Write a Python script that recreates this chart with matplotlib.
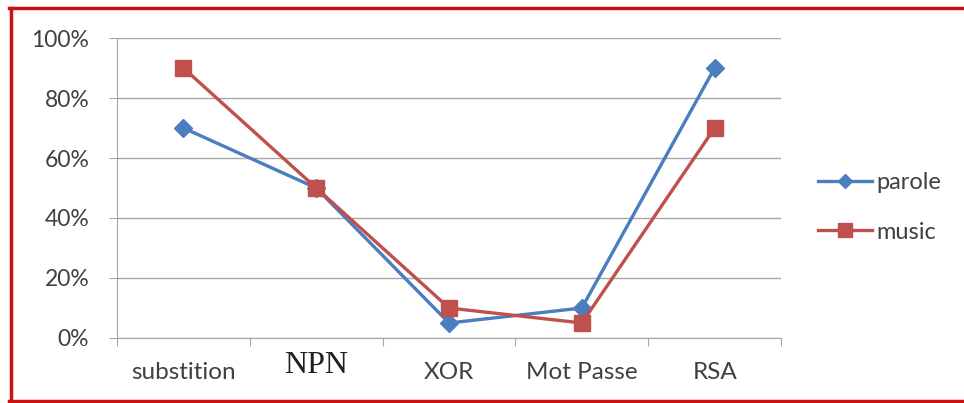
import numpy as np
import matplotlib.pyplot as plt
from matplotlib.lines import Line2D

# Data
categories = ["substition", "NPN", "XOR", "Mot Passe", "RSA"]
parole = [70, 50, 5, 10, 90]
music = [90, 50, 10, 5, 70]
yticks = [0, 20, 40, 60, 80, 100]

blue = "#4A7EBE"
red = "#C0504D"
grey = "#A6A6A6"
plt.rcParams['font.family'] = ['Lato', 'DejaVu Sans']

fig = plt.figure(figsize=(9.64, 4.03), dpi=100)
ax = fig.add_axes([0.1214, 0.1613, 0.6888, 0.7444])

x = np.arange(len(categories))
ax.plot(x, parole, color=blue, lw=2.4, marker="D", ms=9.5, label="parole")
ax.plot(x, music, color=red, lw=2.4, marker="s", ms=12, label="music")

ax.set_xlim(-0.5, len(categories) - 0.5)
ax.set_ylim(0, 100)
ax.set_yticks(yticks)
ax.set_yticklabels([f"{v}%" for v in yticks], fontsize=16.5, color="#404040")
ax.yaxis.grid(True, color=grey, lw=1)
ax.set_axisbelow(True)
ax.tick_params(axis="y", length=6, color=grey, pad=14)

# category labels between tick marks
ax.set_xticks(np.arange(len(categories) + 1) - 0.5)
ax.set_xticklabels([])
ax.tick_params(axis="x", length=6, color=grey)
ax.set_xticks(x, minor=True)
ax.set_xticklabels(categories, minor=True, fontsize=17.5, color="#404040")
ax.tick_params(axis="x", which="minor", length=0, pad=17)
for lab in ax.get_xticklabels(minor=True):
    if lab.get_text() == "NPN":
        lab.set_family("Liberation Serif")
        lab.set_fontsize(23)
        lab.set_color("#202020")
        lab.set_y(lab.get_position()[1] + 0.035)

for s in ["top", "right"]:
    ax.spines[s].set_visible(False)
for s in ["left", "bottom"]:
    ax.spines[s].set_color(grey)

ax.legend(loc="center left", bbox_to_anchor=(1.023, 0.435), frameon=False,
          fontsize=17, labelspacing=1.2, handlelength=2.3, handletextpad=0.2,
          markerscale=0.8, labelcolor="#404040")

# red frame around the picture
for xs, ys in [([0.009, 1.0], [0.98, 0.98]), ([0.011, 0.011], [0.005, 0.98]),
               ([0.009, 1.0], [0.005, 0.005])]:
    fig.add_artist(Line2D(xs, ys, color="#CC1111", lw=2.5))

fig.savefig("out.png", dpi=100)
